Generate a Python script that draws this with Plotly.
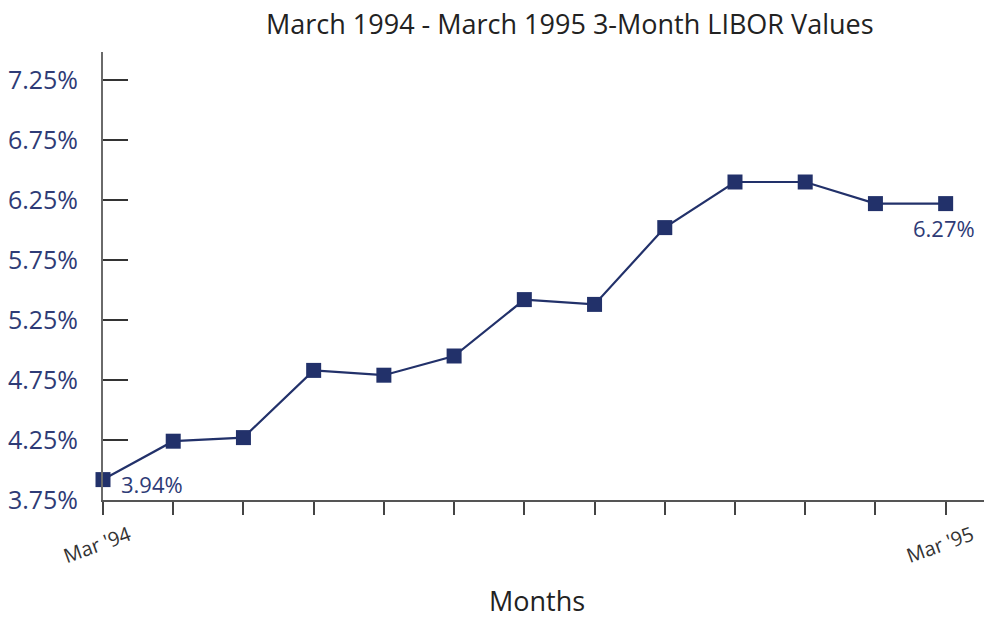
import plotly.graph_objects as go

# monthly 3-month LIBOR, Mar '94 .. Mar '95
months = list(range(13))
libor = [3.92, 4.24, 4.27, 4.83, 4.79, 4.95, 5.42, 5.38, 6.02, 6.40, 6.40, 6.22, 6.22]
month_labels = ["Mar '94", "", "", "", "", "", "", "", "", "", "", "", "Mar '95"]
point_labels = {0: "3.94%", 12: "6.27%"}
y_ticks = [3.75, 4.25, 4.75, 5.25, 5.75, 6.25, 6.75, 7.25]

navy = "#22316a"
label_blue = "#2e3b76"
font = "Open Sans"

fig = go.Figure()
fig.add_trace(go.Scatter(
    x=months,
    y=libor,
    mode="lines+markers",
    line=dict(color=navy, width=2.2),
    marker=dict(symbol="square", size=15, color=navy),
    cliponaxis=False,
    hoverinfo="skip",
    showlegend=False,
))

# data labels at first and last point
fig.add_annotation(x=months[0], y=libor[0], text=point_labels[0], showarrow=False,
                   xanchor="left", xshift=16, yshift=-4,
                   font=dict(family=font, size=22, color=label_blue))
fig.add_annotation(x=months[12], y=libor[12], text=point_labels[12], showarrow=False,
                   xanchor="center", xshift=-2, yshift=-24,
                   font=dict(family=font, size=22, color=label_blue))

# rotated month labels under the axis
for m, lab in zip(months, month_labels):
    if lab:
        fig.add_annotation(x=m, y=0, yref="paper", text=lab, showarrow=False,
                           textangle=-20, xanchor="center", yanchor="middle",
                           xshift=-6, yshift=-44,
                           font=dict(family=font, size=20, color="#333333"))

fig.add_annotation(x=0.488, y=-0.225, xref="paper", yref="paper", text="Months",
                   showarrow=False, xanchor="center", yanchor="middle",
                   font=dict(family=font, size=27, color="#222222"))

# chart title as an annotation above the plot area
fig.add_annotation(x=(560 - 90) / 894, y=1, xref="paper", yref="paper",
                   text="March 1994 - March 1995 3-Month LIBOR Values",
                   showarrow=False, xanchor="center", yanchor="middle", yshift=29,
                   font=dict(family=font, size=27, color="#222222"))

# page body adds an 8px margin, so the figure is 8px smaller each way
fig.update_layout(
    width=984,
    height=612,
    margin=dict(l=90, r=0, t=44, b=120),
    paper_bgcolor="white",
    plot_bgcolor="white",
    font=dict(family=font),
)
fig.update_xaxes(
    range=[0, 12.66],
    tickvals=months,
    showticklabels=False,
    ticks="outside",
    ticklen=13,
    tickwidth=1.5,
    tickcolor="#444444",
    showline=True,
    linecolor="#555555",
    linewidth=2,
    showgrid=False,
    zeroline=False,
)
fig.update_yaxes(
    range=[3.75, 3.75 + 448 / 120],
    tickvals=y_ticks,
    ticktext=[f"{v:.2f}%" for v in y_ticks],
    ticks="inside",
    ticklen=25,
    tickwidth=1.5,
    tickcolor="#333333",
    ticklabelstandoff=18,
    tickfont=dict(family=font, size=25, color=label_blue),
    showline=True,
    linecolor="#6a6a6a",
    linewidth=2,
    showgrid=False,
    zeroline=False,
)

fig.write_html("out.html")
